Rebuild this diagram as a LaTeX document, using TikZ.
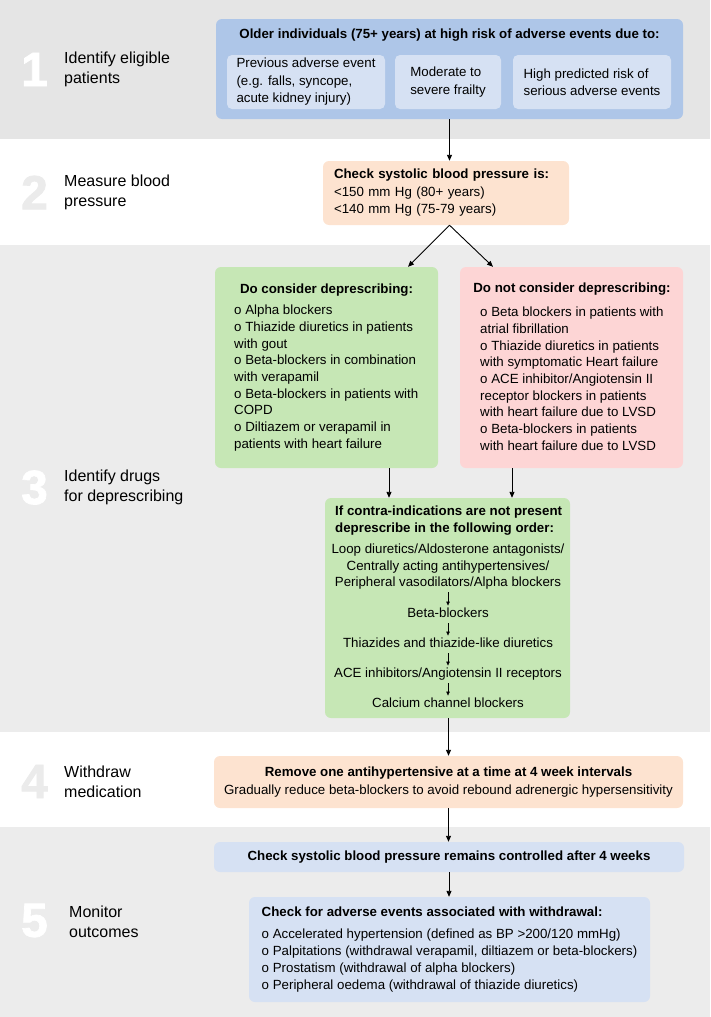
\documentclass[tikz,border=0pt]{standalone}
\usepackage{fontspec}
\setmainfont{Liberation Sans}
\newfontfamily\zahlfont[FakeBold=1.5]{Liberation Sans}
\usetikzlibrary{arrows.meta}

% Farben
\definecolor{bandA}{HTML}{E5E5E5}
\definecolor{bandB}{HTML}{ECECEC}
\definecolor{blauD}{HTML}{AEC6E8}
\definecolor{blauH}{HTML}{D6E1F3}
\definecolor{pfirsich}{HTML}{FDE3D0}
\definecolor{gruen}{HTML}{C6E7B5}
\definecolor{rosa}{HTML}{FDD5D5}
\definecolor{zahlgrau}{HTML}{EBEBEB}

\begin{document}
\begin{tikzpicture}[x=1pt,y=-1pt,
  kasten/.style={rounded corners=6pt,inner sep=0pt,font=\fontsize{13.3}{17.5}\selectfont},
  kastenfett/.style={kasten,font=\fontsize{13.3}{17.5}\selectfont\bfseries},
  liste/.style={anchor=north west,align=left,inner sep=0pt,font=\fontsize{13.3}{16.67}\selectfont},
  stufe/.style={align=center,inner xsep=0pt,inner ysep=2.5pt,font=\fontsize{13.3}{16.5}\selectfont},
  einzel/.style={stufe,text height=9.7pt,text depth=2.8pt},
  nummer/.style={font=\fontsize{48}{48}\selectfont\zahlfont\bfseries},
  etikett/.style={anchor=west,align=left,inner sep=0pt,font=\fontsize{16}{20}\selectfont},
  pfeil/.style={-{Triangle[length=6pt,width=5pt]},line width=0.9pt},
  kleinpfeil/.style={-{Triangle[length=4pt,width=3.5pt]},line width=0.5pt}]

% Rahmen und Hintergrundbaender
\useasboundingbox (0,0) rectangle (710,1017);
\fill[bandA] (0,0) rectangle (710,139);
\fill[bandB] (0,245) rectangle (710,732);
\fill[bandB] (0,827) rectangle (710,1017);

% Schrittnummern
\foreach \n/\y/\farbe in {1/69.5/white, 2/192.5/zahlgrau, 3/487.5/white, 4/781.5/zahlgrau, 5/920.5/white}
  \node[nummer,text=\farbe] (n\n) at (34.5,\y) {\n};

% Schrittnamen
\node[etikett] (e1) at (64,69.5) {Identify eligible\\patients};
\node[etikett] (e2) at (64,192) {Measure blood\\pressure};
\node[etikett] (e3) at (64,487) {Identify drugs\\for deprescribing};
\node[etikett] (e4) at (64,782) {Withdraw\\medication};
\node[etikett] (e5) at (69,922) {Monitor\\outcomes};

% Schritt 1
\node[kasten,fill=blauD,minimum width=467,minimum height=100] (s1) at (449.5,69) {};
\node[kastenfett] (s1t) at (449.5,35.5) {Older individuals (75+ years) at high risk of adverse events due to:};
\node[kasten,fill=blauH,rounded corners=5pt,minimum width=158,minimum height=54,align=left] (s1a) at (306,82)
  {Previous adverse event\\(e.g. falls, syncope,\\acute kidney injury)};
\node[kasten,fill=blauH,rounded corners=5pt,minimum width=106,minimum height=54,align=left] (s1b) at (448,82)
  {Moderate to\\severe frailty};
\node[kasten,fill=blauH,rounded corners=5pt,minimum width=158,minimum height=54,align=left] (s1c) at (592,82)
  {High predicted risk of\\serious adverse events};

% Schritt 2
\node[kasten,fill=pfirsich,minimum width=246,minimum height=64,text width=224,align=left] (s2) at (446,193)
  {\textbf{Check systolic blood pressure is:}\\<150 mm Hg (80+ years)\\<140 mm Hg (75-79 years)};
\draw[pfeil] (s1.south) -- (s1.south |- s2.north);

% Schritt 3: Listen
\node[kasten,fill=gruen,minimum width=223,minimum height=201] (dcon) at (326.5,367.5) {};
\node[kastenfett] (dcont) at (326.5,290) {Do consider deprescribing:};
\node[liste] (dconl) at (234,305) {o Alpha blockers\\o Thiazide diuretics in patients\\with gout\\o Beta-blockers in combination\\with verapamil\\o Beta-blockers in patients with\\COPD\\o Diltiazem or verapamil in\\patients with heart failure};

\node[kasten,fill=rosa,minimum width=223,minimum height=201] (dnot) at (571.5,367.5) {};
\node[kastenfett] (dnott) at (572,289) {Do not consider deprescribing:};
\node[liste] (dnotl) at (480,307) {o Beta blockers in patients with\\atrial fibrillation\\o Thiazide diuretics in patients\\with symptomatic Heart failure\\o ACE inhibitor/Angiotensin II\\receptor blockers in patients\\with heart failure due to LVSD\\o Beta-blockers in patients\\with heart failure due to LVSD};

\coordinate (gabel) at (s1.south |- s2.south);
\draw[pfeil] (gabel) -- ([xshift=81.5]dcon.north);
\draw[pfeil] (gabel) -- ([xshift=-78.5]dnot.north);

% Schritt 3: Reihenfolge
\node[kasten,fill=gruen,minimum width=245,minimum height=220] (ordn) at (447.5,608) {};
\node[liste,font=\fontsize{13.3}{16.5}\selectfont\bfseries] (ordt) at (335,506) {If contra-indications are not present\\deprescribe in the following order:};
\node[stufe] (o1) at (448,567) {Loop diuretics/Aldosterone antagonists/\\Centrally acting antihypertensives/\\Peripheral vasodilators/Alpha blockers};
\node[einzel] (o2) at (448,614.5) {Beta-blockers};
\node[einzel] (o3) at (448,644.5) {Thiazides and thiazide-like diuretics};
\node[einzel] (o4) at (448,674.5) {ACE inhibitors/Angiotensin II receptors};
\node[einzel] (o5) at (448,704.5) {Calcium channel blockers};
\foreach \a/\b in {o1/o2,o2/o3,o3/o4,o4/o5}
  \draw[kleinpfeil] (\a) -- (\b);

\coordinate (dcona) at ([xshift=62.5]dcon.south);
\coordinate (dnota) at ([xshift=-59.5]dnot.south);
\draw[pfeil] (dcona) -- (dcona |- ordn.north);
\draw[pfeil] (dnota) -- (dnota |- ordn.north);

% Schritt 4
\node[kasten,fill=pfirsich,minimum width=469,minimum height=52,align=center,font=\fontsize{13.3}{18}\selectfont] (s4) at (448.5,782)
  {\textbf{Remove one antihypertensive at a time at 4 week intervals}\\Gradually reduce beta-blockers to avoid rebound adrenergic hypersensitivity};
\draw[pfeil] (s4.north |- ordn.south) -- (s4.north);

% Schritt 5
\node[kastenfett,fill=blauH,minimum width=470,minimum height=30] (s5a) at (449,857) {Check systolic blood pressure remains controlled after 4 weeks};
\node[kasten,fill=blauH,minimum width=401,minimum height=105,align=left,font=\fontsize{13.3}{17}\selectfont] (s5b) at (449.5,949.5)
  {\textbf{Check for adverse events associated with withdrawal:}\\[5pt]o Accelerated hypertension (defined as BP >200/120 mmHg)\\o Palpitations (withdrawal verapamil, diltiazem or beta-blockers)\\o Prostatism (withdrawal of alpha blockers)\\o Peripheral oedema (withdrawal of thiazide diuretics)};
\draw[pfeil] (s4.south) -- (s4.south |- s5a.north);
\draw[pfeil] (s5a.south) -- (s5a.south |- s5b.north);

\end{tikzpicture}
\end{document}
